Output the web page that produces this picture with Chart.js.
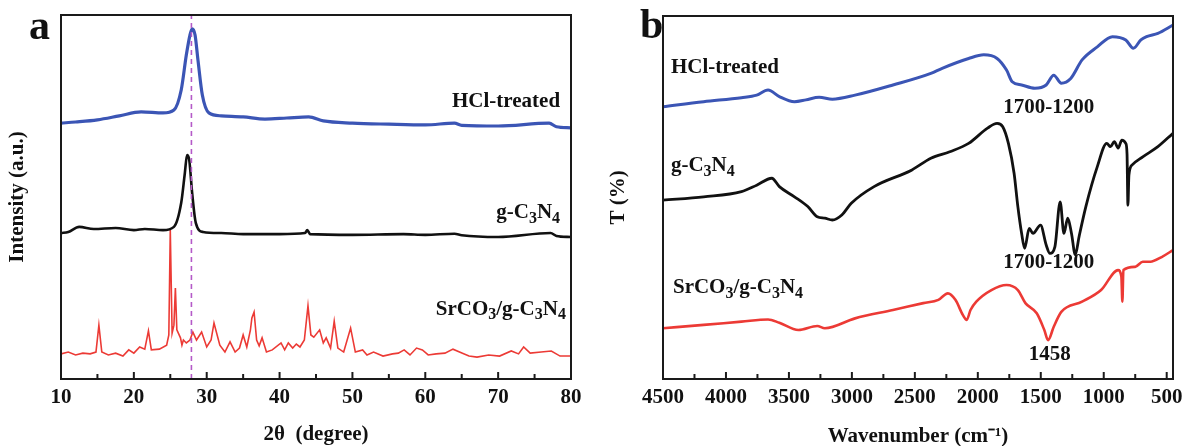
<!DOCTYPE html>
<html>
<head>
<meta charset="utf-8">
<script src="https://cdn.jsdelivr.net/npm/chart.js@4.4.1/dist/chart.umd.min.js"></script>
<style>
  body { margin: 0; background: #fff; }
  canvas { position: absolute; top: 0; }
  #xrd { left: 0; }
  #ftir { left: 590px; }
</style>
</head>
<body>
<canvas id="xrd" width="590" height="446"></canvas>
<canvas id="ftir" width="592" height="446"></canvas>
<script>
// ---- panel a: XRD patterns (2theta in degree, intensity in a.u.) ----
const hclTheta = [10, 12, 15, 18, 21, 24, 25.5, 26.5, 27.2, 27.7, 28.0, 28.4, 28.8, 29.4, 30.3, 32, 35, 38, 41, 44, 46, 50, 55, 60, 64, 65, 70, 77, 78, 80];
const hclXrd = [70.3, 70.6, 71.2, 72.3, 73.4, 73.1, 73.9, 79.4, 89.0, 94.5, 96.2, 94.5, 87.6, 78.0, 73.1, 72.3, 72.0, 71.4, 71.7, 72.0, 70.9, 70.3, 70.0, 69.8, 70.3, 69.7, 69.5, 70.3, 69.3, 69.0];

const cnTheta = [10, 11, 12.5, 14.5, 17.5, 20, 21.5, 24, 25.5, 26.5, 27.0, 27.3, 27.6, 28.0, 28.5, 29.5, 32, 35, 40, 43.5, 43.8, 44.2, 50, 57, 60, 64, 65, 70, 77.2, 78, 80];
const cnXrd = [40.1, 40.4, 41.8, 41.2, 41.5, 40.9, 41.2, 40.9, 41.8, 48.4, 56.6, 61.5, 60.2, 51.1, 42.9, 40.4, 40.1, 39.8, 39.8, 40.1, 40.9, 39.8, 39.6, 39.8, 39.6, 39.9, 39.5, 39.0, 40.1, 39.3, 39.0];

const srTheta = [10, 11, 12, 13, 14, 14.8, 15.2, 15.6, 16.5, 17.5, 18.5, 19.3, 20, 20.8, 21.5, 22.0, 22.4, 23.5, 24.5, 24.8, 25.0, 25.25, 25.5, 25.7, 25.9, 26.4, 26.6, 26.8, 27.2, 27.7, 28.1, 28.6, 29.3, 30.0, 30.6, 31.0, 31.8, 32.5, 33.2, 33.9, 34.5, 35.0, 35.5, 36.0, 36.2, 36.5, 36.85, 37.2, 37.6, 38.2, 39.0, 40.2, 40.7, 41.2, 41.8, 42.3, 42.8, 43.4, 43.9, 44.3, 44.7, 45.5, 46.0, 46.4, 47.0, 47.5, 48.0, 48.8, 49.75, 50.4, 51.4, 52.0, 52.9, 54.2, 55.5, 56.3, 57.1, 57.9, 58.8, 59.6, 60.4, 61.5, 62.7, 63.8, 65.1, 66.0, 67.1, 68.7, 70.2, 71.8, 72.8, 73.5, 74.4, 75.9, 77.3, 78.5, 80];
const srXrd = [6.9, 7.4, 6.6, 7.1, 6.9, 7.4, 14.8, 7.4, 6.6, 7.1, 6.3, 8.0, 7.1, 8.8, 8.2, 13.2, 8.0, 8.2, 9.3, 12.1, 40.9, 12.6, 14.8, 25.0, 13.5, 11.3, 9.3, 10.7, 9.9, 10.7, 12.9, 10.7, 12.9, 8.8, 10.7, 15.4, 9.3, 7.4, 10.2, 7.4, 8.5, 12.1, 8.8, 13.5, 16.8, 18.4, 10.7, 9.1, 11.3, 7.4, 8.0, 9.9, 8.0, 9.9, 8.5, 9.6, 8.8, 10.7, 20.1, 12.1, 11.5, 13.5, 9.9, 11.3, 8.5, 15.9, 8.5, 7.4, 14.0, 7.4, 8.0, 6.6, 7.4, 6.3, 6.9, 7.1, 8.0, 6.6, 8.5, 8.0, 6.6, 6.9, 7.1, 8.2, 7.1, 6.3, 6.0, 6.6, 6.3, 7.7, 6.9, 8.8, 7.1, 7.4, 7.7, 6.3, 6.3];

const xrdRefLine = 27.9;
const xrdMajor = [10, 20, 30, 40, 50, 60, 70, 80];
const xrdMinor = [15, 25, 35, 45, 55, 65, 75];

// ---- panel b: FTIR spectra (wavenumber in cm-1, transmittance %) ----
const hclWave = [4500, 4177, 3877, 3756, 3666, 3576, 3456, 3365, 3260, 3155, 2975, 2674, 2373, 2283, 2073, 1953, 1847, 1772, 1727, 1652, 1547, 1457, 1397, 1337, 1262, 1172, 1051, 931, 825, 765, 705, 660, 570, 450];
const hclT = [75.0, 76.4, 77.5, 78.2, 79.6, 77.8, 76.4, 76.9, 77.6, 77.1, 78.2, 81.0, 84.2, 85.6, 88.3, 89.3, 88.3, 85.1, 81.9, 81.0, 80.1, 81.0, 83.7, 81.5, 82.8, 87.9, 91.5, 94.3, 93.4, 91.1, 93.4, 94.3, 95.2, 97.5];

const cnWave = [4500, 4177, 3877, 3756, 3636, 3576, 3456, 3350, 3275, 3215, 3155, 3080, 3005, 2824, 2523, 2373, 2223, 2073, 1923, 1847, 1802, 1757, 1712, 1682, 1652, 1628, 1592, 1562, 1502, 1457, 1427, 1388, 1346, 1316, 1286, 1256, 1226, 1196, 1142, 1051, 976, 946, 916, 886, 856, 825, 815, 808, 800, 774, 690, 570, 450];
const cnT = [49.3, 50.2, 51.6, 53.4, 55.3, 53.0, 50.2, 47.5, 44.7, 44.3, 43.8, 45.2, 48.4, 53.0, 57.6, 60.8, 62.6, 64.9, 69.1, 70.4, 69.5, 64.9, 56.7, 47.5, 40.1, 36.0, 41.5, 40.1, 42.4, 36.9, 34.6, 36.4, 48.8, 40.1, 44.3, 40.1, 34.2, 39.2, 47.5, 58.5, 64.9, 64.0, 65.4, 63.6, 65.8, 64.9, 62.0, 47.9, 56.2, 59.0, 61.2, 64.0, 67.7];

const srWave = [4500, 4177, 3877, 3666, 3576, 3425, 3275, 3215, 2975, 2674, 2433, 2313, 2238, 2178, 2118, 2088, 2058, 2012, 1892, 1772, 1682, 1622, 1532, 1472, 1442, 1397, 1337, 1172, 1021, 886, 860, 852, 844, 750, 690, 630, 540, 450];
const srT = [14.0, 14.9, 15.8, 16.4, 15.5, 13.5, 14.6, 14.0, 16.7, 19.0, 20.9, 21.8, 23.6, 21.8, 17.6, 16.3, 19.0, 21.3, 24.5, 25.9, 24.5, 20.9, 18.1, 13.5, 10.7, 14.4, 18.5, 21.3, 24.5, 30.0, 28.2, 21.3, 30.0, 30.9, 32.3, 32.3, 33.6, 35.5];

const ftirMajor = [4500, 4000, 3500, 3000, 2500, 2000, 1500, 1000, 500];
const ftirMinor = [4250, 3750, 3250, 2750, 2250, 1750, 1250, 750];

const SERIF = '"Liberation Serif", "Times New Roman", serif';
const INK = '#111';
const BLUE = '#3b55b5';
const BLACK = '#111';
const RED = '#ec3a35';

Chart.defaults.font.family = SERIF;
Chart.defaults.color = INK;

const toPoints = (xs, ys) => xs.map((x, i) => ({ x, y: ys[i] }));

// text with "_3" style subscripts, drawn on the canvas
function drawRich(ctx, text, x, y, align) {
  const parts = text.split(/(_\d)/).filter(s => s).map(s => s[0] === '_' ? { t: s.slice(1), sub: true } : { t: s, sub: false });
  const mainFont = `bold 21px ${SERIF}`;
  const subFont = `bold 16px ${SERIF}`;
  const widths = parts.map(p => { ctx.font = p.sub ? subFont : mainFont; return ctx.measureText(p.t).width; });
  const total = widths.reduce((a, b) => a + b, 0);
  let cx = align === 'right' ? x - total : align === 'center' ? x - total / 2 : x;
  ctx.textAlign = 'left';
  ctx.textBaseline = 'middle';
  parts.forEach((p, i) => {
    ctx.font = p.sub ? subFont : mainFont;
    ctx.fillText(p.t, cx, p.sub ? y + 6 : y);
    cx += widths[i];
  });
}

// box frame, inward ticks, curve labels and the panel letter
const framePlugin = {
  id: 'frame',
  afterDraw(chart, args, opts) {
    const { ctx, chartArea: a, scales: { x, y } } = chart;
    ctx.save();
    ctx.strokeStyle = '#1a1a1a';
    ctx.lineWidth = 2;
    ctx.strokeRect(a.left, a.top, a.right - a.left, a.bottom - a.top);
    const tick = (v, len) => {
      const px = x.getPixelForValue(v);
      ctx.beginPath();
      ctx.moveTo(px, a.bottom);
      ctx.lineTo(px, a.bottom - len);
      ctx.stroke();
    };
    opts.major.forEach(v => tick(v, 7));
    opts.minor.forEach(v => tick(v, 5));
    ctx.fillStyle = INK;
    opts.labels.forEach(l => drawRich(ctx, l.text, x.getPixelForValue(l.x), y.getPixelForValue(l.y), l.align));
    ctx.font = `bold 42px ${SERIF}`;
    ctx.textAlign = 'left';
    ctx.textBaseline = 'alphabetic';
    ctx.fillText(opts.letter.text, opts.letter.x, opts.letter.y);
    ctx.restore();
  }
};

function baseScales(xRange, majorTicks, yTitle, yWidth, yTitlePad, xTitle, xTitlePad) {
  return {
    x: Object.assign({
      type: 'linear',
      grid: { display: false, drawTicks: false },
      border: { display: false },
      ticks: {
        padding: 6, color: INK, autoSkip: false, maxRotation: 0,
        font: { size: 21, weight: 'bold' },
        callback: v => String(v)
      },
      title: { display: true, text: xTitle, color: INK, font: { size: 21, weight: 'bold' }, padding: { top: 0, bottom: xTitlePad } },
      afterBuildTicks(s) { s.ticks = majorTicks.map(v => ({ value: v })); },
      afterFit(s) { s.height = 67; s.paddingLeft = 0; s.paddingRight = 0; }
    }, xRange),
    y: {
      type: 'linear',
      min: 0,
      max: 100,
      grid: { display: false, drawTicks: false },
      border: { display: false },
      ticks: { display: false },
      title: { display: true, text: yTitle, color: INK, font: { size: 21, weight: 'bold' }, padding: { top: yTitlePad, bottom: 0 } },
      afterFit(s) { s.width = yWidth; }
    }
  };
}

const line = (data, color, width, extra) => Object.assign({
  data, borderColor: color, borderWidth: width, pointRadius: 0, fill: false
}, extra || {});

new Chart(document.getElementById('xrd'), {
  type: 'line',
  data: {
    datasets: [
      line([{ x: xrdRefLine, y: 0 }, { x: xrdRefLine, y: 100 }], '#b45ac8', 1.6, { borderDash: [5, 4] }),
      line(toPoints(hclTheta, hclXrd), BLUE, 3.2, { cubicInterpolationMode: 'monotone' }),
      line(toPoints(cnTheta, cnXrd), BLACK, 2.6, { cubicInterpolationMode: 'monotone' }),
      line(toPoints(srTheta, srXrd), RED, 1.6)
    ]
  },
  options: {
    responsive: false,
    animation: false,
    layout: { padding: { top: 15, right: 19, left: 0, bottom: 0 } },
    plugins: {
      legend: { display: false },
      tooltip: { enabled: false },
      frame: {
        major: xrdMajor,
        minor: xrdMinor,
        letter: { text: 'a', x: 29, y: 39 },
        labels: [
          { text: 'HCl-treated', x: 78.5, y: 76.1, align: 'right' },
          { text: 'g-C_3N_4', x: 78.5, y: 45.6, align: 'right' },
          { text: 'SrCO_3/g-C_3N_4', x: 79.3, y: 19.2, align: 'right' }
        ]
      }
    },
    scales: baseScales({ min: 10, max: 80 }, xrdMajor, 'Intensity (a.u.)', 61, 5, '2\u03B8  (degree)', -1)
  },
  plugins: [framePlugin]
});

new Chart(document.getElementById('ftir'), {
  type: 'line',
  data: {
    datasets: [
      line(toPoints(hclWave, hclT), BLUE, 3, { cubicInterpolationMode: 'monotone' }),
      line(toPoints(cnWave, cnT), BLACK, 2.8, { cubicInterpolationMode: 'monotone' }),
      line(toPoints(srWave, srT), RED, 2.6, { cubicInterpolationMode: 'monotone' })
    ]
  },
  options: {
    responsive: false,
    animation: false,
    layout: { padding: { top: 16, right: 9, left: 0, bottom: 0 } },
    plugins: {
      legend: { display: false },
      tooltip: { enabled: false },
      frame: {
        major: ftirMajor,
        minor: ftirMinor,
        letter: { text: 'b', x: 50, y: 38 },
        labels: [
          { text: 'HCl-treated', x: 4437, y: 85.7, align: 'left' },
          { text: 'g-C_3N_4', x: 4437, y: 58.7, align: 'left' },
          { text: 'SrCO_3/g-C_3N_4', x: 4421, y: 25.1, align: 'left' },
          { text: '1700-1200', x: 1437, y: 74.9, align: 'center' },
          { text: '1700-1200', x: 1437, y: 32.0, align: 'center' },
          { text: '1458', x: 1429, y: 6.6, align: 'center' }
        ]
      }
    },
    scales: baseScales({ min: 450, max: 4500, reverse: true }, ftirMajor, 'T (%)', 73, 16, 'Wavenumber (cm\u207B\u00B9)', -3)
  },
  plugins: [framePlugin]
});
</script>
</body>
</html>
